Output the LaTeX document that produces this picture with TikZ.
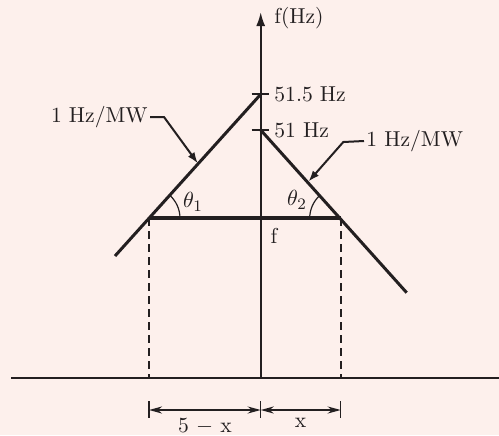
\documentclass[tikz,border=0pt]{standalone}
\usepackage{amsmath}
\usepackage{xcolor}
\usepackage{tikz}
\usetikzlibrary{shapes, arrows.meta}
\definecolor{bgpink}{RGB}{253,240,236}
\definecolor{ink}{RGB}{35,31,32}
\tikzstyle{lbl} = [inner sep=1pt, text=ink]
\tikzstyle{curve} = [draw=ink, line width=1.5pt]
\tikzstyle{leader} = [draw=ink, line width=1pt, -{Latex[length=5.5pt, width=4pt]}]
\tikzstyle{dim} = [draw=ink, line width=1pt, {Stealth[length=6.5pt, width=3.5pt]}-{Stealth[length=6.5pt, width=3.5pt]}]

\begin{document}
\begin{tikzpicture}[x=0.5pt, y=-0.5pt, font=\fontsize{10.8}{12}\selectfont]
    % 背景
    \fill [bgpink] (0,0) rectangle (499,435);
    \useasboundingbox (0,0) rectangle (499,435);

    % 放置点
    \coordinate (origin) at (260.7,378);
    \coordinate (top) at (260.7,12);
    \coordinate (fmax) at (260.7,94.3);
    \coordinate (fzero) at (260.7,130);
    \coordinate (lowL) at (115,256);
    \coordinate (lowR) at (406.7,292.7);
    \coordinate (P1) at (149,218.3);
    \coordinate (P2) at (340.7,218.3);
    \coordinate (F) at (260.7,218.3);
    \coordinate (gl) at (11,378);
    \coordinate (gr) at (499,378);
    \coordinate (t1) at (197.8,163.3);
    \coordinate (t2) at (308.5,181.5);
    \coordinate (d1) at (149,410);
    \coordinate (d2) at (260.7,410);
    \coordinate (d3) at (340.7,410);

    % 坐标轴
    \draw [-{Latex[length=7pt, width=4.5pt]}, draw=ink, line width=1pt] (origin) -- (top);
    \draw [draw=ink, line width=0.7pt] (gl) -- (gr);
    \draw [draw=ink, line width=1pt] ([xshift=-4.5pt]fmax) -- ([xshift=4pt]fmax);
    \draw [draw=ink, line width=1pt] ([xshift=-4.5pt]fzero) -- ([xshift=4pt]fzero);
    \node [lbl, anchor=west] (axis) at (272,18) {f(Hz)};
    \node [lbl, anchor=west] (l515) at (272,94.3) {51.5 Hz};
    \node [lbl, anchor=west] (l51) at (272,130) {51 Hz};

    % 特性曲线
    \draw [curve] (lowL) -- (fmax);
    \draw [curve] (fzero) -- (lowR);
    \draw [draw=ink, line width=2pt] (P1) -- (P2);
    \draw [draw=ink, line width=1pt, dash pattern=on 4pt off 2.5pt] (P1) -- (P1 |- gl);
    \draw [draw=ink, line width=1pt, dash pattern=on 4pt off 2.5pt] (P2) -- (P2 |- gl);
    \node [lbl] (f) at (274,236) {f};

    % 角度
    \draw [draw=ink, line width=0.6pt] (P1) ++(31,0) arc [start angle=0, end angle=-48, radius=31];
    \draw [draw=ink, line width=0.6pt] (P2) ++(-31,0) arc [start angle=180, end angle=228, radius=31];
    \node [lbl] (th1) at (193,202) {$\theta_1$};
    \node [lbl] (th2) at (297,200) {$\theta_2$};

    % 斜率标注
    \node [lbl, anchor=east] (mw1) at (150,117) {1 Hz/MW};
    \node [lbl, anchor=west] (mw2) at (364,141) {1 Hz/MW};
    \draw [leader] (mw1.east) -- (164,117) -- (t1);
    \draw [leader] (mw2.west) -- (343.3,142) -- (t2);

    % 尺寸
    \foreach \p in {d1, d2, d3}
        \draw [draw=ink, line width=0.6pt] ([yshift=4.5pt]\p) -- ([yshift=-4pt]\p);
    \draw [dim] (d1) -- node [lbl, below=2.5pt] {5 $-$ x} (d2);
    \draw [dim] (d2) -- node [lbl, below=2.5pt] {x} (d3);
\end{tikzpicture}
\end{document}
